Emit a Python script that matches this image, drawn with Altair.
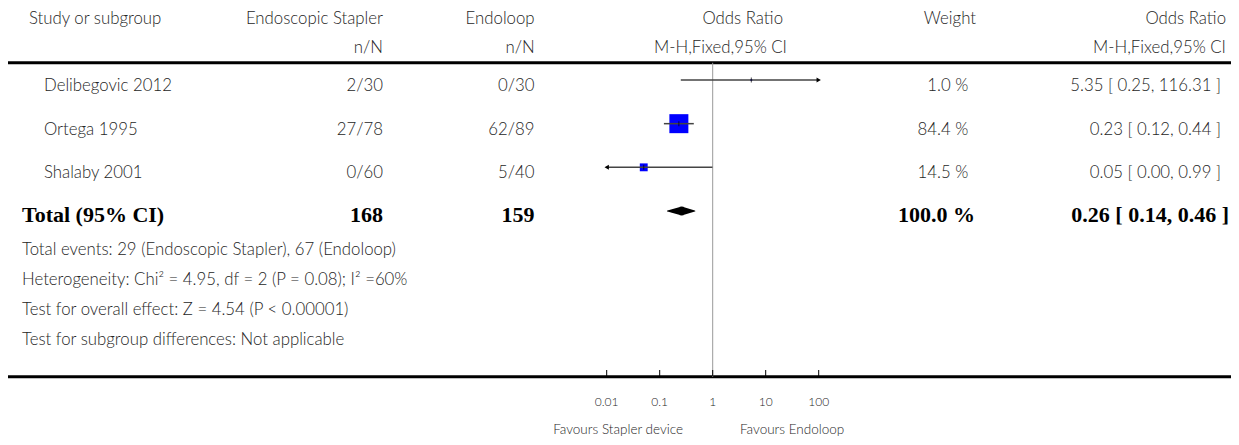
import altair as alt
import pandas as pd

# ---------------- data ----------------
studies = ["Delibegovic 2012", "Ortega 1995", "Shalaby 2001"]
stapler_nN = ["2/30", "27/78", "0/60"]
endoloop_nN = ["0/30", "62/89", "5/40"]
or_est = [5.35, 0.23, 0.05]
ci_lo = [0.25, 0.12, 0.00]
ci_hi = [116.31, 0.44, 0.99]
weights = [1.0, 84.4, 14.5]

total_label = "Total (95% CI)"
total_stapler = "168"
total_endoloop = "159"
total_or = 0.26
total_lo = 0.14
total_hi = 0.46
total_weight = 100.0

footnotes = [
    "Total events: 29 (Endoscopic Stapler), 67 (Endoloop)",
    "Heterogeneity: Chi\u00b2 = 4.95, df = 2 (P = 0.08); I\u00b2 =60%",
    "Test for overall effect: Z = 4.54 (P < 0.00001)",
    "Test for subgroup differences: Not applicable",
]
tick_values = [0.01, 0.1, 1, 10, 100]
tick_labels = ["0.01", "0.1", "1", "10", "100"]
favours = ["Favours Stapler device", "Favours Endoloop"]
header_top = ["Study or subgroup", "Endoscopic Stapler", "Endoloop", "Odds Ratio", "Weight", "Odds Ratio"]
header_sub = ["n/N", "n/N", "M-H,Fixed,95% CI", "M-H,Fixed,95% CI"]

# ---------------- styles / layout ----------------
FONT = "Lato"
SERIF = "Liberation Serif"
TXT = "#262626"
FS = 16.8
FW = 300
W, H = 1223, 429
DIAMOND_H = 9

XS = alt.Scale(type="log", domain=[0.01, 100], range=[598.7, 810.7], nice=False)
YS = alt.Scale(domain=[0, 3], range=[72, 203], nice=False, zero=False)

df = pd.DataFrame({
    "study": studies, "stapler": stapler_nN, "endoloop": endoloop_nN,
    "or": or_est, "lo": ci_lo, "hi": ci_hi, "weight": weights,
})
df["row"] = list(range(len(df)))
df["weight_txt"] = [f"{w:.1f} %" for w in weights]
df["or_txt"] = [f"{o:.2f} [ {l:.2f}, {h:.2f} ]" for o, l, h in zip(or_est, ci_lo, ci_hi)]

tot = pd.DataFrame({
    "label": [total_label], "stapler": [total_stapler], "endoloop": [total_endoloop],
    "weight_txt": [f"{total_weight:.1f} %"],
    "or_txt": [f"{total_or:.2f} [ {total_lo:.2f}, {total_hi:.2f} ]"],
    "row": [3],
})
diamond = pd.DataFrame({"v": [total_lo, total_or, total_hi], "w": [0, DIAMOND_H, 0], "row": [3, 3, 3]})
ticks_df = pd.DataFrame({"v": tick_values, "lab": tick_labels})
one = pd.DataFrame({"a": [0]})

X = lambda f: alt.X(f, scale=XS, axis=None)
Y = alt.Y("row:Q", scale=YS, axis=None)


def static_text(text, x, y, align="left", baseline="alphabetic", size=FS, font=FONT, color=TXT, weight=FW):
    return alt.Chart(one).mark_text(
        text=text, align=align, baseline=baseline, font=font, fontSize=size,
        color=color, fontWeight=weight,
    ).encode(x=alt.value(x), y=alt.value(y))


def col_text(data, field, x, align, bold=False):
    return alt.Chart(data).mark_text(
        align=align, baseline="alphabetic", dy=11,
        font=SERIF if bold else FONT, fontSize=22 if bold else FS,
        fontWeight="bold" if bold else FW, color="#000" if bold else TXT,
    ).encode(x=alt.value(x), y=Y, text=f"{field}:N")


layers = []

# header
layers += [
    static_text(header_top[0], 21, 15.5),
    static_text(header_top[1], 375, 15.5, align="right"),
    static_text(header_top[2], 526.6, 15.5, align="right"),
    static_text(header_top[3], 775, 15.5, align="right"),
    static_text(header_top[4], 968, 15.5, align="right"),
    static_text(header_top[5], 1218, 15.5, align="right"),
    static_text(header_sub[0], 375, 44.7, align="right"),
    static_text(header_sub[1], 526.6, 44.7, align="right"),
    static_text(header_sub[2], 779, 44.7, align="right"),
    static_text(header_sub[3], 1218, 44.7, align="right"),
]

# horizontal thick lines
for yy in (54.8, 368.7):
    layers.append(alt.Chart(one).mark_rule(color="#000", strokeWidth=3).encode(
        x=alt.value(0), x2=alt.value(W), y=alt.value(yy)))

# vertical null line
layers.append(alt.Chart(pd.DataFrame({"v": [1]})).mark_rule(color="#999999", strokeWidth=1).encode(
    x=X("v:Q"), y=alt.value(54.8), y2=alt.value(368.7)))

# study rows text
layers += [
    col_text(df, "study", 36, "left"),
    col_text(df, "stapler", 375, "right"),
    col_text(df, "endoloop", 526.6, "right"),
    col_text(df, "weight_txt", 960.3, "right"),
    col_text(df, "or_txt", 1213, "right"),
]
# total row text
layers += [
    col_text(tot, "label", 14, "left", bold=True),
    col_text(tot, "stapler", 375, "right", bold=True),
    col_text(tot, "endoloop", 526.6, "right", bold=True),
    col_text(tot, "weight_txt", 967, "right", bold=True),
    col_text(tot, "or_txt", 1221, "right", bold=True),
]

# squares
layers.append(alt.Chart(df).mark_square(color="#0000FF", opacity=1, filled=True).encode(
    x=X("or:Q"), y=Y,
    size=alt.Size("weight:Q", scale=alt.Scale(domain=[0, 84.4], range=[0, 361]), legend=None)))

# CI lines (clamped to axis)
layers.append(alt.Chart(df).transform_calculate(
    lo_c="max(datum.lo, 0.01)", hi_c="min(datum.hi, 100)"
).mark_rule(color="#444444", strokeWidth=1.5).encode(x=X("lo_c:Q"), x2="hi_c:Q", y=Y))

# point estimate ticks
layers.append(alt.Chart(df).mark_tick(orient="vertical", color="#000", thickness=1, size=5).encode(
    x=X("or:Q"), y=Y))

# arrows for truncated CIs
layers.append(alt.Chart(df).transform_filter("datum.hi > 100").transform_calculate(edge="100").mark_point(
    shape="triangle-right", filled=True, color="#000", opacity=1, size=25).encode(x=X("edge:Q"), y=Y))
layers.append(alt.Chart(df).transform_filter("datum.lo < 0.01").transform_calculate(edge="0.01").mark_point(
    shape="triangle-left", filled=True, color="#000", opacity=1, size=25).encode(x=X("edge:Q"), y=Y))

# diamond
layers.append(alt.Chart(diamond).mark_trail(color="#000").encode(
    x=X("v:Q"), y=Y, size=alt.Size("w:Q", scale=None), order=alt.Order("v:Q")))

# footnotes
layers.append(alt.Chart(one).mark_text(
    text="\n".join(footnotes), lineBreak="\n", lineHeight=30.2, align="left", baseline="alphabetic",
    font=FONT, fontSize=FS, color=TXT, fontWeight=FW,
).encode(x=alt.value(14), y=alt.value(246.5)))

# axis ticks & labels
layers.append(alt.Chart(ticks_df).mark_rule(color="#000", strokeWidth=1).encode(
    x=X("v:Q"), y=alt.value(362), y2=alt.value(368)))
layers.append(alt.Chart(ticks_df).mark_text(font=FONT, fontSize=12, color=TXT, fontWeight=FW,
                                            baseline="middle").encode(
    x=X("v:Q"), y=alt.value(394), text="lab:N"))

# favours labels
layers += [
    static_text(favours[0], 675, 422, align="right", baseline="middle", size=13.5),
    static_text(favours[1], 732, 422, align="left", baseline="middle", size=13.5),
]

chart = alt.layer(*layers).properties(
    width=W, height=H, autosize=alt.AutoSizeParams(type="none"), padding=0
).configure_view(stroke=None)

chart.save("out.html", embed_options={"renderer": "svg", "actions": False})
